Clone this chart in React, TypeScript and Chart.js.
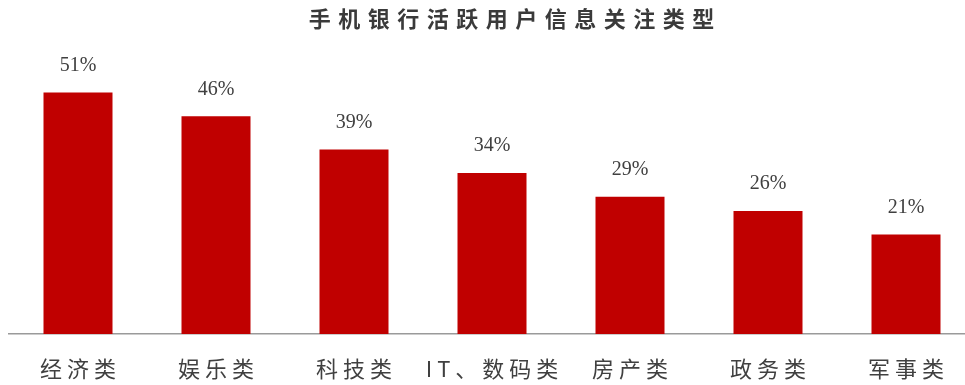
import React, { useEffect, useRef } from "react";
import { Chart, registerables } from "chart.js";

Chart.register(...registerables);

const title = "手机银行活跃用户信息关注类型";
const categories = ["经济类", "娱乐类", "科技类", "IT、数码类", "房产类", "政务类", "军事类"];
const values = [51, 46, 39, 34, 29, 26, 21];
const barColor = "#C00000";
const textColor = "#404040";

const CANVAS_W = 1023;
const CANVAS_H = 385;

export default function App() {
  const ref = useRef<HTMLCanvasElement | null>(null);

  useEffect(() => {
    document.body.style.margin = "0";
    document.documentElement.style.overflow = "hidden";
    document.body.style.overflow = "hidden";
    const canvas = ref.current;
    if (!canvas) return;

    const spacingPlugin = {
      id: "spacing",
      beforeDraw(chart: any) {
        (chart.ctx as any).letterSpacing = "5px";
      },
      beforeDatasetsDraw(chart: any) {
        (chart.ctx as any).letterSpacing = "0px";
      },
    };

    const labelPlugin = {
      id: "valueLabels",
      afterDatasetsDraw(chart: any) {
        const ctx = chart.ctx as CanvasRenderingContext2D;
        const meta = chart.getDatasetMeta(0);
        ctx.save();
        (ctx as any).letterSpacing = "0px";
        ctx.font = '20px "Liberation Serif", "Times New Roman", serif';
        ctx.fillStyle = textColor;
        ctx.textAlign = "center";
        ctx.textBaseline = "middle";
        meta.data.forEach((el: any, i: number) => {
          ctx.fillText(values[i] + "%", el.x, el.y - 27);
        });
        ctx.restore();
      },
    };

    const chart = new Chart(canvas, {
      type: "bar",
      data: {
        labels: categories,
        datasets: [
          {
            data: values,
            backgroundColor: barColor,
            borderWidth: 0,
            barPercentage: 0.5,
            categoryPercentage: 1,
          },
        ],
      },
      options: {
        animation: false,
        responsive: false,
        maintainAspectRatio: false,
        layout: { padding: { left: 9, right: 48, top: 50, bottom: 0 } },
        plugins: {
          legend: { display: false },
          tooltip: { enabled: false },
          title: { display: false },
        },
        scales: {
          x: {
            grid: { display: false, drawTicks: false },
            border: { display: true, color: "#9a9a9a", width: 1.5 },
            ticks: {
              autoSkip: false,
              maxRotation: 0,
              padding: 21,
              labelOffset: 2.5,
              color: textColor,
              font: { family: '"Noto Sans CJK SC", sans-serif', size: 22 },
            },
            afterFit(scale: any) {
              scale.height = 51;
            },
          },
          y: {
            display: false,
            min: 0,
            max: 60,
          },
        },
      },
      plugins: [spacingPlugin, labelPlugin],
    });

    return () => chart.destroy();
  }, []);

  return (
    <div style={{ position: "relative", width: 965, height: 385, overflow: "hidden", background: "#fff" }}>
      <canvas
        ref={ref}
        width={CANVAS_W}
        height={CANVAS_H}
        style={{ position: "absolute", left: 0, top: 0, width: CANVAS_W, height: CANVAS_H }}
      />
      <div
        style={{
          position: "absolute",
          left: 0,
          top: 6,
          width: CANVAS_W,
          textAlign: "center",
          fontFamily: '"Noto Sans CJK SC", sans-serif',
          fontWeight: 700,
          fontSize: 22,
          lineHeight: "22px",
          letterSpacing: "7.5px",
          paddingLeft: 7.5,
          boxSizing: "border-box",
          color: "#3a3a3a",
        }}
      >
        {title}
      </div>
    </div>
  );
}
